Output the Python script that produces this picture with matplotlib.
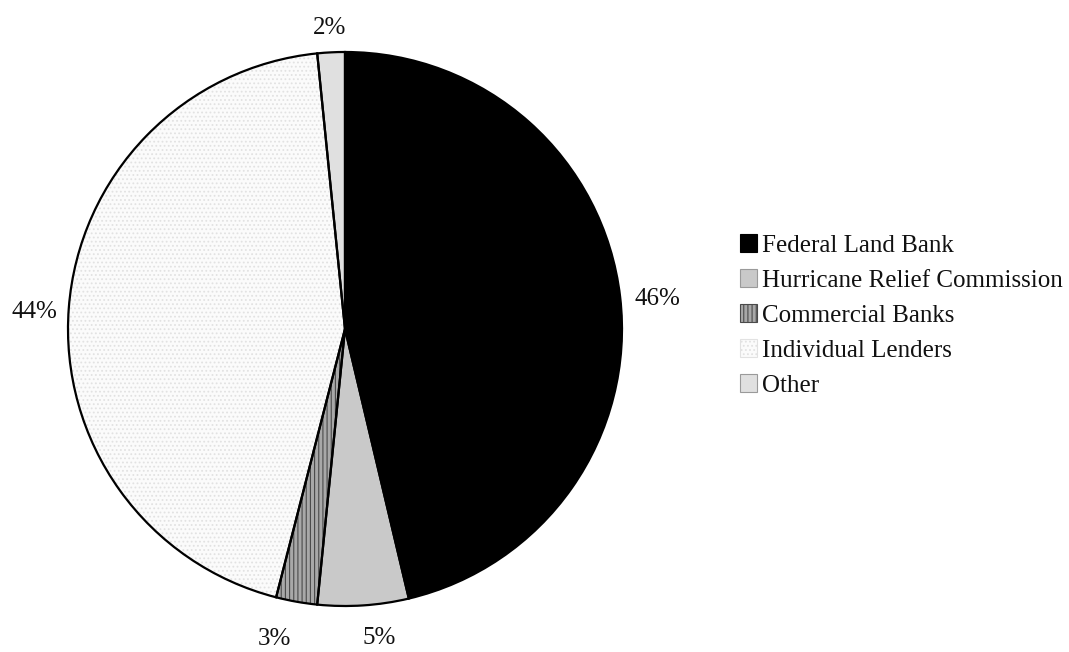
import matplotlib
matplotlib.use("Agg")
import matplotlib.pyplot as plt
from matplotlib.patches import Rectangle

categories = ["Federal Land Bank", "Hurricane Relief Commission", "Commercial Banks",
              "Individual Lenders", "Other"]
values = [46.3, 5.3, 2.4, 44.4, 1.6]
labels = ["46%", "5%", "3%", "44%", "2%"]

face_colors = ["#000000", "#c9c9c9", "#a8a8a8", "#fbfbfb", "#e0e0e0"]
hatches = [None, None, "||||", "....", None]
hatch_colors = ["#000000", "#c9c9c9", "#4a4a4a", "#e2e2e2", "#e0e0e0"]
# small label nudges (pixels, +y = down) to mimic the reference's label placement
label_nudge_px = [(10, 5), (14, 5), (-17, 10), (-7, 6), (0, 3)]

plt.rcParams['font.family'] = ['Liberation Serif', 'DejaVu Serif']
plt.rcParams['hatch.linewidth'] = 0.8

fig = plt.figure(figsize=(10.69, 6.52), dpi=100)
cx, cy, r = 345, 329, 277
W, H = 1069, 652
ax = fig.add_axes([(cx - r) / W, (H - cy - r) / H, 2 * r / W, 2 * r / H])

wedges, texts = ax.pie(values, startangle=90, counterclock=False, colors=face_colors,
                       labels=labels, labeldistance=1.1,
                       textprops=dict(fontsize=18, color="#111111"),
                       wedgeprops=dict(linewidth=0))
for w, h, hc in zip(wedges, hatches, hatch_colors):
    w.set_edgecolor(hc)
    w.set_linewidth(0)
    if h:
        w.set_hatch(h)
for t, (dx, dy) in zip(texts, label_nudge_px):
    t.set_ha("center")
    t.set_va("center")
    x, y = t.get_position()
    t.set_position((x + dx / r, y - dy / r))

ax.pie(values, startangle=90, counterclock=False,
       colors=["none"] * len(values),
       wedgeprops=dict(linewidth=1.6, edgecolor="black", fill=False))

ax.set_xlim(-1, 1)
ax.set_ylim(-1, 1)
ax.set_aspect("equal")
ax.axis("off")

handles = []
for fc, h, hc in zip(face_colors, hatches, hatch_colors):
    if fc == "#fbfbfb":
        ec = "#cfcfcf"
    elif fc == "#000000":
        ec = "#000000"
    else:
        ec = "#9a9a9a"
    handles.append(Rectangle((0, 0), 1, 1, facecolor=fc, edgecolor=hc if h else ec,
                             hatch=h, linewidth=0.8))

leg = fig.legend(handles, categories, loc="center left", bbox_to_anchor=(0.6825, 0.516),
                 frameon=False, fontsize=18, handlelength=0.7, handleheight=0.7,
                 handletextpad=0.2, labelspacing=0.5, borderaxespad=0)
for t in leg.get_texts():
    t.set_color("#111111")

fig.savefig("out.png", dpi=100, facecolor="white")
